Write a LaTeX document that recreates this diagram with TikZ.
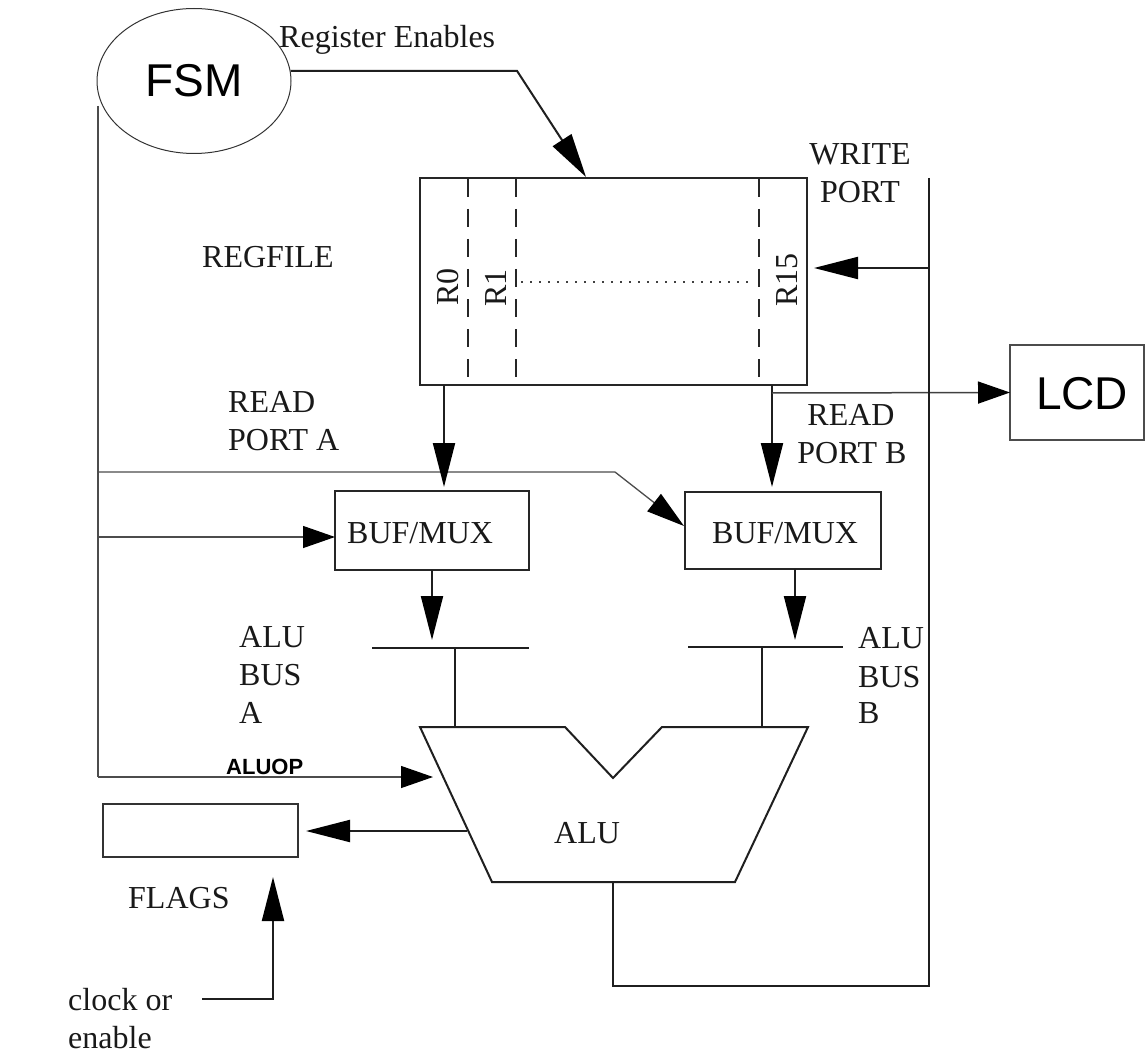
\documentclass[tikz,border=0pt]{standalone}
\usepackage{fontspec}
\setmainfont{Liberation Serif}
\newfontfamily\arialf{Liberation Sans}
\usetikzlibrary{arrows.meta,shapes.geometric}
\begin{document}
\begin{tikzpicture}[x=1pt,y=-1pt,
  thickln/.style={line width=2pt, draw=black!88},
  thinln/.style={line width=1.3pt, draw=black!70},
  bigtip/.style={-{Triangle[length=44pt,width=22pt,color=black]}},
  smalltip/.style={-{Triangle[length=32pt,width=22pt,color=black]}},
  boxst/.style={draw=black!85, line width=2pt, inner sep=0pt, outer sep=0pt},
  lbl/.style={font=\fontsize{32}{38}\selectfont, inner sep=0pt, text=black!90},
  sanslbl/.style={font=\arialf\fontsize{46}{50}\selectfont, inner sep=0pt},
]
\useasboundingbox[fill=white] (0,0) rectangle (1145,1059);

% ---------- nodes ----------
\node[ellipse, draw=black!80, line width=1pt, minimum width=194pt, minimum height=145pt, inner sep=0pt, sanslbl] (fsm) at (194,81) {FSM};
\node[boxst, minimum width=387pt, minimum height=207pt] (rf) at (613.5,281.5) {};
\node[boxst, minimum width=194pt, minimum height=79pt] (bufa) at (432,530.5) {};
\node[boxst, minimum width=196pt, minimum height=77pt] (bufb) at (783,530.5) {};
\node[draw=black!70, line width=1.2pt, minimum width=134pt, minimum height=95pt, inner sep=0pt, outer sep=0pt] (lcd) at (1077,392.5) {};
\node[sanslbl] (lcdt) at (1082,393.5) {LCD};
\node[draw=black!80, line width=1.8pt, minimum width=195pt, minimum height=53pt, inner sep=0pt, outer sep=0pt] (flags) at (200.5,830.5) {};

% ---------- texts ----------
\node[lbl, anchor=base west] (regen) at (279,48) {Register Enables};
\node[lbl, anchor=base west] (regfile) at (202,268) {REGFILE};
\node[lbl, anchor=base] (wr1) at (860,165) {WRITE};
\node[lbl, anchor=base] (wr2) at (860,203) {PORT};
\node[lbl, anchor=base west] (rpa1) at (228,412) {READ};
\node[lbl, anchor=base west] (rpa2) at (228,450) {PORT A};
\node[lbl, anchor=base] (rpb1) at (851,425) {READ};
\node[lbl, anchor=base] (rpb2) at (852,463) {PORT B};
\node[lbl, anchor=base west] (bufat) at (347,543) {BUF/MUX};
\node[lbl, anchor=base west] (bufbt) at (712,543) {BUF/MUX};
\node[lbl, anchor=base west] (aba1) at (239,647) {ALU};
\node[lbl, anchor=base west] (aba2) at (239,685) {BUS};
\node[lbl, anchor=base west] (aba3) at (239,723) {A};
\node[lbl, anchor=base west] (abb1) at (858,648) {ALU};
\node[lbl, anchor=base west] (abb2) at (858,687) {BUS};
\node[lbl, anchor=base west] (abb3) at (858,723) {B};
\node[lbl, anchor=base west] (alut) at (554,843) {ALU};
\node[lbl, anchor=base west] (flagst) at (128,908) {FLAGS};
\node[lbl, anchor=base west] (clk1) at (68,1010) {clock or};
\node[lbl, anchor=base west] (clk2) at (68,1048) {enable};
\node[font=\arialf\bfseries\fontsize{22}{24}\selectfont, inner sep=0pt, anchor=base west] (aluop) at (226,774) {ALUOP};
\node[lbl, rotate=90] (r0) at (448,287) {R0};
\node[lbl, rotate=90] (r1) at (496,288) {R1};
\node[lbl, rotate=90] (r15) at (787,280) {R15};

% ---------- regfile internals ----------
\foreach \xx in {468, 516, 759}{
  \draw[line width=2pt, draw=black!85, dash pattern=on 18pt off 12pt] (\xx,179) -- (\xx,384);
}
\draw[line width=1.6pt, draw=black!75, dash pattern=on 2pt off 7pt] (521,282) -- (752,282);

% ---------- ALU ----------
\coordinate (a1) at (420,727);
\coordinate (a2) at (565,727);
\coordinate (a3) at (613,778);
\coordinate (a4) at (662,727);
\coordinate (a5) at (808,727);
\coordinate (a6) at (735,882);
\coordinate (a7) at (492,882);
\draw[thickln, line join=miter] (a1) -- (a2) -- (a3) -- (a4) -- (a5) -- (a6) -- (a7) -- cycle;

% ---------- coordinates ----------
\coordinate (re) at (517,72);
\coordinate (retip) at (586,177);
\coordinate (ctl) at (98,106);
\coordinate (ctlbot) at (98,777);
\coordinate (aluoptip) at (433,777);
\coordinate (yA) at (98,537);
\coordinate (yB) at (98,472);
\coordinate (bend) at (615,472);
\coordinate (bufbtip) at (684,526);
\coordinate (wtop) at (929,178);
\coordinate (wmid) at (929,268);
\coordinate (wtip) at (814,268);
\coordinate (busAl) at (372,648);
\coordinate (busAr) at (529,648);
\coordinate (busBl) at (688,647);
\coordinate (busBr) at (843,647);
\coordinate (ret1) at (613,986);
\coordinate (ret2) at (929,986);
\coordinate (flsrc) at (467,831);
\coordinate (fltip) at (306,831);
\coordinate (clkst) at (202,999);
\coordinate (clkc) at (273,999);
\coordinate (clktip) at (273,877);

% ---------- connectors ----------
\draw[thickln, bigtip] (fsm.6) -- (fsm.6 -| re) -- (retip);
\draw[thinln] (ctl) -- (ctlbot);
\draw[thinln, smalltip] (ctlbot) -- (aluoptip);
\draw[thinln, smalltip] (yA) -- (yA -| bufa.west);
\draw[thinln, -{Triangle[length=38pt,width=22pt,color=black]}] (yB) -- (bend) -- (bufbtip);

\draw[thickln, bigtip] (rf.south -| 444,0) -- (444,487);
\draw[thickln, bigtip] (rf.south -| 772,0) -- (772,487);
\draw[line width=1.5pt, draw=black!75, smalltip] (772,393) -- (lcd.west);

\draw[thickln] (wtop) -- (ret2) -- (ret1) -- (a7 -| ret1);
\draw[thickln, bigtip] (wmid) -- (wtip);

\draw[thickln, bigtip] (bufa.south -| 432,0) -- (432,640);
\draw[thickln, bigtip] (bufb.south -| 795,0) -- (795,640);
\draw[thickln] (busAl) -- (busAr);
\draw[thickln] (busBl) -- (busBr);
\draw[thickln] (455,648) -- (a1 -| 455,0);
\draw[thickln] (762,647) -- (a1 -| 762,0);

\draw[thickln, bigtip] (flsrc) -- (fltip);
\draw[thickln, bigtip] (clkst) -- (clkc) -- (clktip);
\end{tikzpicture}
\end{document}
